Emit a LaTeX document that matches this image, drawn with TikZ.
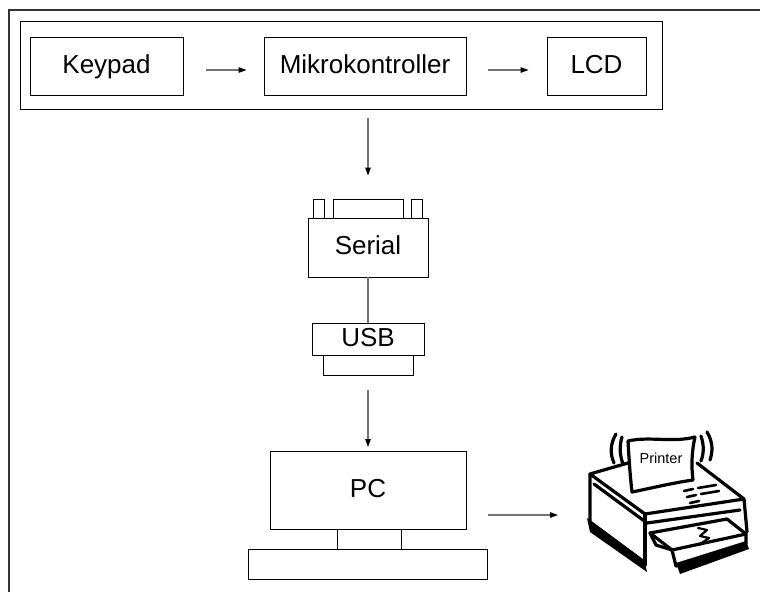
\documentclass[tikz,border=0pt]{standalone}
\usepackage{fontspec}
\setmainfont{Liberation Sans}
\usetikzlibrary{arrows.meta,calc}
\begin{document}
\begin{tikzpicture}[x=1pt,y=-1pt,
  boxst/.style={draw=black,line width=0.9pt,inner sep=0pt,text height=19pt,text depth=5pt,font=\fontsize{26}{30}\selectfont},
  plainbox/.style={draw=black,line width=0.9pt,inner sep=0pt},
  conn/.style={draw=black!55,line width=1.1pt,-{Triangle[length=8pt,width=5.5pt,fill=black,color=black]}},
  wire/.style={draw=black!55,line width=1.1pt},
  frame/.style={draw=black!80,line width=1.6pt},
  prn/.style={line width=3.2pt,line cap=round,line join=round,draw=black}]
\useasboundingbox (0,0) rectangle (760,592);
% outer frame (top and left edges visible)
\draw[frame] (9,592) -- (9,10) -- (760,10);
% group box
\node[plainbox,minimum width=642pt,minimum height=88pt] (grp) at (341,65) {};
\node[boxst,minimum width=153pt,minimum height=58pt] (kp) at (106.5,66) {Keypad};
\node[boxst,minimum width=202pt,minimum height=58pt] (mk) at (365,66) {Mikrokontroller};
\node[boxst,minimum width=99pt,minimum height=58pt] (lcd) at (596.5,66) {LCD};
\draw[conn,shorten <=23pt,shorten >=17pt] ([yshift=-4pt]kp.east) -- ([yshift=-4pt]mk.west);
\draw[conn,shorten <=22pt,shorten >=18pt] ([yshift=-4pt]mk.east) -- ([yshift=-4pt]lcd.west);
% serial connector
\node[plainbox,minimum width=11pt,minimum height=19pt] (pinl) at (318.5,208.5) {};
\node[plainbox,minimum width=70pt,minimum height=19pt] (pinm) at (368,208.5) {};
\node[plainbox,minimum width=11pt,minimum height=19pt] (pinr) at (416.5,208.5) {};
\node[boxst,fill=white,minimum width=120pt,minimum height=59pt] (ser) at (368,247.5) {Serial};
\draw[conn,shorten <=9pt,shorten >=23pt] (grp.south -| pinm.north) -- (pinm.north);
% usb
\node[boxst,minimum width=112pt,minimum height=32pt] (usb) at (368,339) {USB};
\node[plainbox,minimum width=90pt,minimum height=20pt] (usbb) at (368,365) {};
\draw[wire] (ser.south) -- (usb.north);
\draw[conn,shorten <=15pt,shorten >=4pt] (usbb.south) -- (usbb.south |- 451,451);
% PC
\node[boxst,minimum width=196pt,minimum height=78pt] (pc) at (368,490) {PC};
\node[plainbox,minimum width=64pt,minimum height=20pt] (stand) at (369,539) {};
\node[plainbox,minimum width=239pt,minimum height=30pt] (base) at (367.5,564) {};
\coordinate (prnin) at (558,515);
\draw[conn,shorten <=22pt] (pc.east |- prnin) -- (prnin);
% printer clip art
\begin{scope}
% back paper curls
\draw[prn] (616,434) .. controls (610,444) and (610,454) .. (614,463);
\draw[prn] (622,437) .. controls (619,447) and (620,456) .. (623,464);
\draw[prn] (707,432) .. controls (713,442) and (713,451) .. (710,460);
\draw[prn] (701,436) .. controls (704,445) and (704,453) .. (701,461);
% shadows
\fill[black] (587,518) -- (644,560) -- (647,572) -- (590,532) -- cycle;
\fill[black] (676,563) -- (746,541) -- (749,549) -- (680,574) -- cycle;
% body top
\draw[prn] (628,463) -- (590,474) -- (645,514) -- (744,499) -- (697,463);
\draw[prn] (594,484) -- (647,523) -- (740,510);
\draw[prn] (590,474) -- (590,522) -- (644,562);
\draw[prn] (645,514) -- (645,565);
\draw[prn] (744,499) -- (747,532);
% tray
\draw[prn,fill=white] (650,533) -- (727,519) -- (746,534) -- (672,550) -- cycle;
\draw[prn] (672,550) -- (676,566) -- (746,544) -- (746,534);
\draw[prn] (650,533) -- (656,545) -- (672,550);
\draw[line width=2.2pt,line cap=round,line join=round] (698,528) -- (707,530) -- (700,536) -- (709,538) -- (699,545);
% buttons
\draw[prn,line width=2.6pt] (684,491) -- (693,489) (698,488) -- (716,485);
\draw[prn,line width=2.6pt] (687,497) -- (696,495) (701,494) -- (719,491);
\draw[prn,line width=2.6pt] (690,503) -- (699,501);
% paper sheet
\draw[prn,fill=white] (628,441) .. controls (650,436) and (672,443) .. (695,437)
  .. controls (692,450) and (691,465) .. (693,480)
  .. controls (672,483) and (652,488) .. (632,492)
  .. controls (630,475) and (629,458) .. (628,441) -- cycle;
\node[font=\fontsize{14.5}{16}\selectfont,inner sep=0pt] (ptxt) at (661,458) {Printer};
\end{scope}
\end{tikzpicture}
\end{document}
